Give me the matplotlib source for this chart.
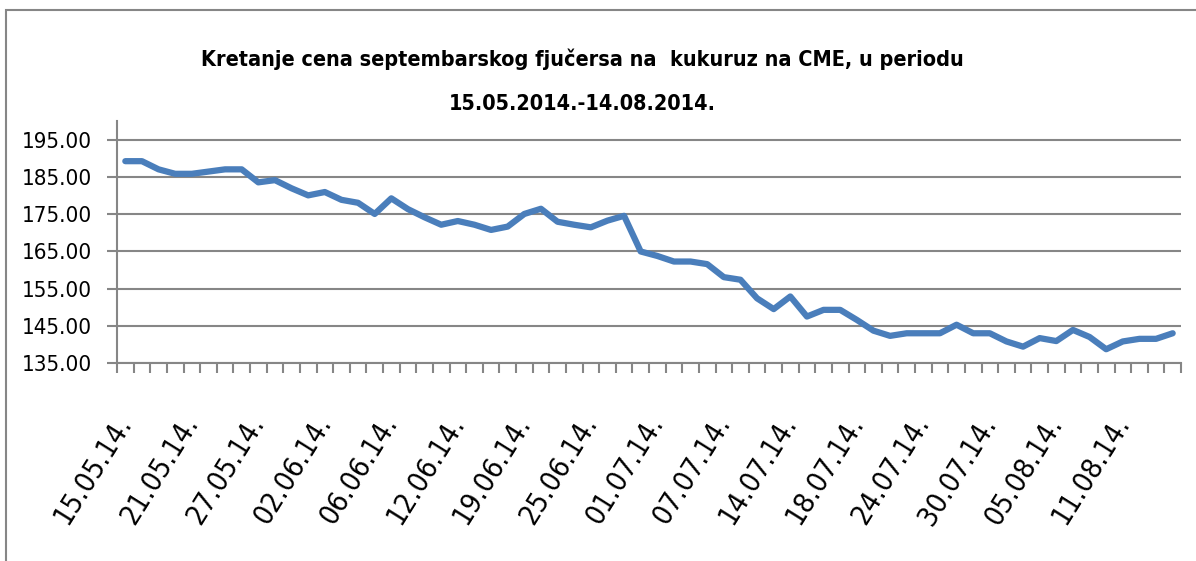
import matplotlib
matplotlib.use("Agg")
import matplotlib.pyplot as plt
from matplotlib import font_manager
from matplotlib.patches import Rectangle
import numpy as np

# September corn futures on CME, 15.05.2014 - 14.08.2014 (trading days)
prices = [
    189.3, 189.3, 187.1, 185.9, 185.9, 186.5, 187.1, 187.1, 183.6, 184.2,
    182.0, 180.1, 181.0, 178.9, 178.1, 175.1, 179.3, 176.4, 174.2, 172.2,
    173.2, 172.2, 170.8, 171.7, 175.1, 176.5, 173.0, 172.2, 171.5, 173.3,
    174.6, 165.0, 163.8, 162.3, 162.3, 161.6, 158.1, 157.4, 152.4, 149.5,
    152.9, 147.5, 149.3, 149.3, 146.6, 143.7, 142.3, 143.0, 143.0, 143.0,
    145.3, 143.0, 143.0, 140.8, 139.4, 141.7, 140.9, 143.9, 142.0, 138.7,
    140.8, 141.5, 141.5, 143.0,
]
date_labels = [
    "15.05.14.", "21.05.14.", "27.05.14.", "02.06.14.", "06.06.14.",
    "12.06.14.", "19.06.14.", "25.06.14.", "01.07.14.", "07.07.14.",
    "14.07.14.", "18.07.14.", "24.07.14.", "30.07.14.", "05.08.14.",
    "11.08.14.",
]
label_step = 4
y_ticks = [135, 145, 155, 165, 175, 185, 195]
title_lines = ["Kretanje cena septembarskog fjučersa na  kukuruz na CME, u periodu",
               "15.05.2014.-14.08.2014."]

GRAY = "#868686"
BLUE = "#4A7EBB"

# prefer a condensed face if one is installed
fonts = font_manager.fontManager.ttflist
names = {f.name for f in fonts}
stretch = "normal"
if "Liberation Sans Narrow" in names:
    FONT = "Liberation Sans Narrow"
elif any(f.name == "DejaVu Sans" and f.stretch == "condensed" for f in fonts):
    FONT, stretch = "DejaVu Sans", "condensed"
else:
    FONT = "Liberation Sans"
plt.rcParams["font.family"] = [FONT, "DejaVu Sans"]
plt.rcParams["font.stretch"] = stretch

W, H = 1196, 561
fig = plt.figure(figsize=(W / 100, H / 100), dpi=100)

# chart area border (runs off the right and bottom edge)
fig.add_artist(Rectangle((6 / W, -0.2), 1.2, 1.2 - 10 / H,
                         transform=fig.transFigure, fill=False,
                         edgecolor=GRAY, linewidth=1.5))

left, right, top, bottom = 117, 1181, 121.4, 363
ax = fig.add_axes([left / W, 1 - bottom / H, (right - left) / W, (bottom - top) / H])

x = np.arange(len(prices))
ax.plot(x, prices, color=BLUE, linewidth=4.5,
        solid_capstyle="round", solid_joinstyle="round", zorder=3)

ax.set_xlim(-0.5, len(prices) - 0.5)
ax.set_ylim(135, 200)
ax.set_yticks(y_ticks)
ax.set_yticklabels([f"{v:.2f}" for v in y_ticks], fontsize=16)
ax.grid(axis="y", color=GRAY, linewidth=1.5)
ax.set_axisbelow(True)

ax.set_xticks(x[::label_step])
ax.set_xticklabels(date_labels, fontsize=20.5, rotation=58,
                   ha="right", va="center", rotation_mode="anchor")
ax.set_xticks(np.arange(-0.5, len(prices), 1), minor=True)
ax.tick_params(axis="x", which="major", length=0, pad=40)
ax.tick_params(axis="x", which="minor", length=7, width=1.5, color=GRAY)
ax.tick_params(axis="y", length=7, width=1.5, color=GRAY, pad=11)

for side in ("top", "right"):
    ax.spines[side].set_visible(False)
for side in ("left", "bottom"):
    ax.spines[side].set_color(GRAY)
    ax.spines[side].set_linewidth(1.5)

for line, base in zip(title_lines, (66, 110)):
    fig.text(582 / W, 1 - base / H, line, ha="center", va="baseline",
             fontsize=15.5, fontweight="bold")

fig.savefig("out.png", dpi=100)
